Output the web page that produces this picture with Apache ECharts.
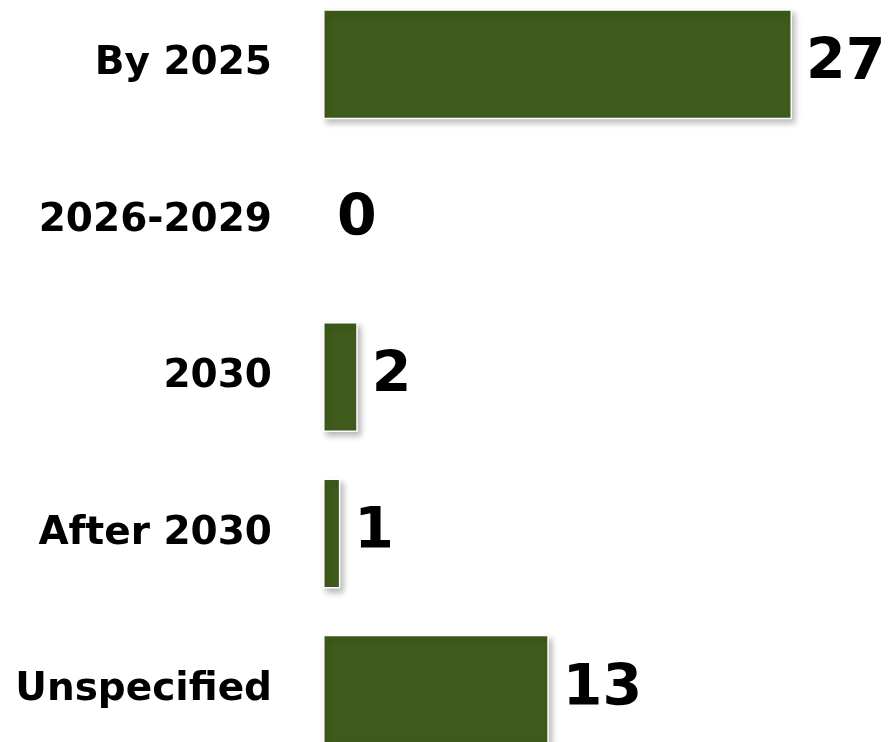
<!DOCTYPE html>
<html><head><meta charset="utf-8">
<script src="https://cdn.jsdelivr.net/npm/echarts@6/dist/echarts.min.js"></script>
<style>html,body{margin:0;padding:0;background:#fff;overflow:hidden;width:889px;height:742px}#c{position:absolute;left:0;top:-14px;width:889px;height:782px}</style>
</head><body><div id="c"></div>
<script>
const categories = ["By 2025", "2026-2029", "2030", "After 2030", "Unspecified"];
const values = [27, 0, 2, 1, 13];

const chart = echarts.init(document.getElementById('c'), null, {renderer: 'canvas'});
chart.setOption({
  animation: false,
  backgroundColor: '#ffffff',
  grid: {left: 323, right: 97, top: 0, bottom: 0, containLabel: false},
  xAxis: {type: 'value', min: 0, max: 27, show: false},
  yAxis: {
    type: 'category', data: categories, inverse: true,
    axisLine: {show: false}, axisTick: {show: false}, splitLine: {show: false},
    axisLabel: {fontFamily: 'DejaVu Sans', fontWeight: 'bold', fontSize: 39, color: '#000', margin: 51}
  },
  series: [{
    type: 'bar', barWidth: 110,
    data: values.map(v => v === 0 ? {value: v, itemStyle: {shadowBlur: 0, shadowColor: 'transparent', borderWidth: 0}} : v),
    itemStyle: {color: '#3f5b1c', borderColor: '#ffffff', borderWidth: 1.5,
      shadowBlur: 6, shadowOffsetX: 3, shadowOffsetY: 4, shadowColor: 'rgba(0,0,0,0.28)'},
    label: {show: true, position: 'right', distance: 14, fontFamily: 'DejaVu Sans', fontWeight: 'bold', fontSize: 57, color: '#000'}
  }]
});
</script></body></html>
